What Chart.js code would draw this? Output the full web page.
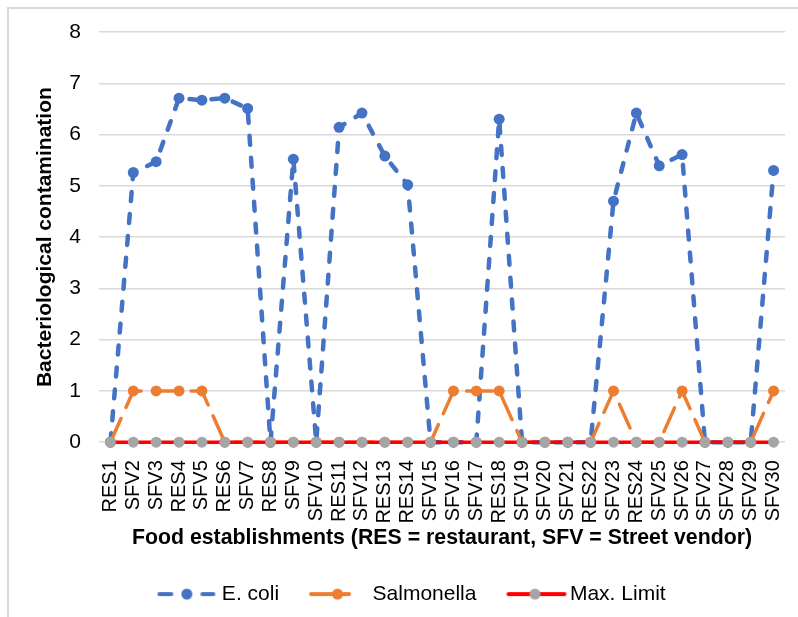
<!DOCTYPE html>
<html>
<head>
<meta charset="utf-8">
<script src="https://cdn.jsdelivr.net/npm/chart.js@4.4.1/dist/chart.umd.min.js"></script>
<style>
  html, body { margin: 0; padding: 0; background: #fff; }
  #wrap { position: relative; width: 798px; height: 617px; overflow: hidden; }
  #frame { position: absolute; left: 7px; top: 7px; right: -10px; bottom: -10px;
           border-left: 2px solid #d9d9d9; border-top: 2px solid #d9d9d9; }
  canvas { position: absolute; left: 0; top: 0; }
</style>
</head>
<body>
<div id="wrap"><div id="frame"></div><canvas id="chart" width="798" height="617"></canvas></div>
<script>
// ===== data =====
const LABELS = ['RES1', 'SFV2', 'SFV3', 'RES4', 'SFV5', 'RES6', 'SFV7', 'RES8', 'SFV9', 'SFV10',
  'RES11', 'SFV12', 'RES13', 'RES14', 'SFV15', 'SFV16', 'SFV17', 'RES18', 'SFV19', 'SFV20',
  'SFV21', 'RES22', 'SFV23', 'RES24', 'SFV25', 'SFV26', 'SFV27', 'SFV28', 'SFV29', 'SFV30'];
const ECOLI = [0, 5.26, 5.47, 6.71, 6.67, 6.71, 6.51, 0, 5.52, 0,
  6.14, 6.42, 5.58, 5.02, 0, 0, 0, 6.3, 0, 0,
  0, 0, 4.7, 6.42, 5.39, 5.61, 0, 0, 0, 5.3];
const SALMONELLA = [0, 1, 1, 1, 1, 0, 0, 0, 0, 0,
  0, 0, 0, 0, 0, 1, 1, 1, 0, 0,
  0, 0, 1, 0, 0, 1, 0, 0, 0, 1];
const MAX_LIMIT = [0, 0, 0, 0, 0, 0, 0, 0, 0, 0,
  0, 0, 0, 0, 0, 0, 0, 0, 0, 0,
  0, 0, 0, 0, 0, 0, 0, 0, 0, 0];
const Y_TICKS = [0, 1, 2, 3, 4, 5, 6, 7, 8];

const BLUE = '#4472c4', ORANGE = '#ed7d31', RED = '#ff0000', GREY = '#a5a5a5';
const FONT = "'Liberation Sans', Arial, sans-serif";

// little legend samples (line + marker), like excel draws them; 70px wide, centred on the legend box
function sample(kind) {
  const c = document.createElement('canvas');
  c.width = 70; c.height = 14;
  const g = c.getContext('2d');
  g.lineCap = 'round';
  g.lineWidth = 4;
  const dot = (x, col) => { g.fillStyle = col; g.beginPath(); g.arc(x, 7, 5.5, 0, Math.PI * 2); g.fill(); };
  if (kind === 'ecoli') {
    g.strokeStyle = BLUE;
    g.beginPath(); g.moveTo(10, 7); g.lineTo(22, 7); g.moveTo(53, 7); g.lineTo(64, 7); g.stroke();
    dot(37.5, BLUE);
  } else if (kind === 'salm') {
    g.strokeStyle = ORANGE;
    g.beginPath(); g.moveTo(11, 7); g.lineTo(49, 7); g.stroke();
    dot(37.5, ORANGE);
  } else {
    g.strokeStyle = RED;
    g.beginPath(); g.moveTo(11, 7); g.lineTo(67, 7); g.stroke();
    dot(37.5, GREY);
  }
  return c;
}
const SAMPLES = [sample('ecoli'), sample('salm'), sample('max')];

// excel's legend sits a bit right of the plot centre
const legendShift = {
  id: 'legendShift',
  afterLayout(chart) {
    chart.legend.left += 6.5;
    chart.legend.right += 6.5;
  },
};

new Chart(document.getElementById('chart'), {
  type: 'line',
  data: {
    labels: LABELS,
    datasets: [
      { label: 'E. coli', data: ECOLI, order: 3, borderColor: BLUE, backgroundColor: BLUE,
        borderWidth: 4.5, borderDash: [9, 13], borderCapStyle: 'round',
        pointRadius: 5.5, pointBorderWidth: 0, pointBackgroundColor: BLUE, clip: false },
      { label: 'Salmonella', data: SALMONELLA, order: 2, borderColor: ORANGE, backgroundColor: ORANGE,
        borderWidth: 3.5, borderDash: [26, 12], borderCapStyle: 'round',
        pointRadius: 5.5, pointBorderWidth: 0, pointBackgroundColor: ORANGE, clip: false },
      { label: 'Max. Limit', data: MAX_LIMIT, order: 1, borderColor: RED, backgroundColor: GREY,
        borderWidth: 3.5, pointRadius: 5.5, pointBorderWidth: 0, pointBackgroundColor: GREY, clip: false },
    ],
  },
  options: {
    responsive: false,
    animation: false,
    layout: { padding: { left: 25, right: 13, top: 32, bottom: 2.4 } },
    plugins: {
      tooltip: { enabled: false },
      legend: {
        position: 'bottom',
        labels: {
          usePointStyle: true,
          pointStyleWidth: 54,
          padding: 29,
          color: '#000',
          font: { family: FONT, size: 21 },
          generateLabels: (chart) => chart.data.datasets.map((ds, i) => ({
            text: ds.label, pointStyle: SAMPLES[i], fillStyle: ds.borderColor,
            strokeStyle: ds.borderColor, lineWidth: 0, hidden: false, datasetIndex: i,
          })),
        },
      },
    },
    scales: {
      x: {
        offset: true,
        grid: { display: false },
        border: { display: false },
        ticks: { autoSkip: false, maxRotation: 90, minRotation: 90, padding: 10,
          color: '#000', font: { family: FONT, size: 20 } },
        title: { display: true, text: 'Food establishments (RES = restaurant, SFV = Street vendor)',
          color: '#000', font: { family: FONT, size: 21.3, weight: 'bold' }, padding: { top: 0, bottom: 3.8 } },
        afterFit: (s) => { s.height = 112.4; s.paddingLeft = 0; s.paddingRight = 0; },
      },
      y: {
        min: 0, max: 8,
        afterBuildTicks: (s) => { s.ticks = Y_TICKS.map(v => ({ value: v })); },
        grid: { color: '#d9d9d9', lineWidth: 1.5, drawTicks: false },
        border: { display: false },
        ticks: { padding: 18, color: '#000', font: { family: FONT, size: 21 } },
        title: { display: true, text: 'Bacteriological contamination',
          color: '#000', font: { family: FONT, size: 21, weight: 'bold' }, padding: { top: 8, bottom: 0 } },
        afterFit: (s) => { s.width = 74; },
      },
    },
  },
  plugins: [legendShift],
});
</script>
</body>
</html>
